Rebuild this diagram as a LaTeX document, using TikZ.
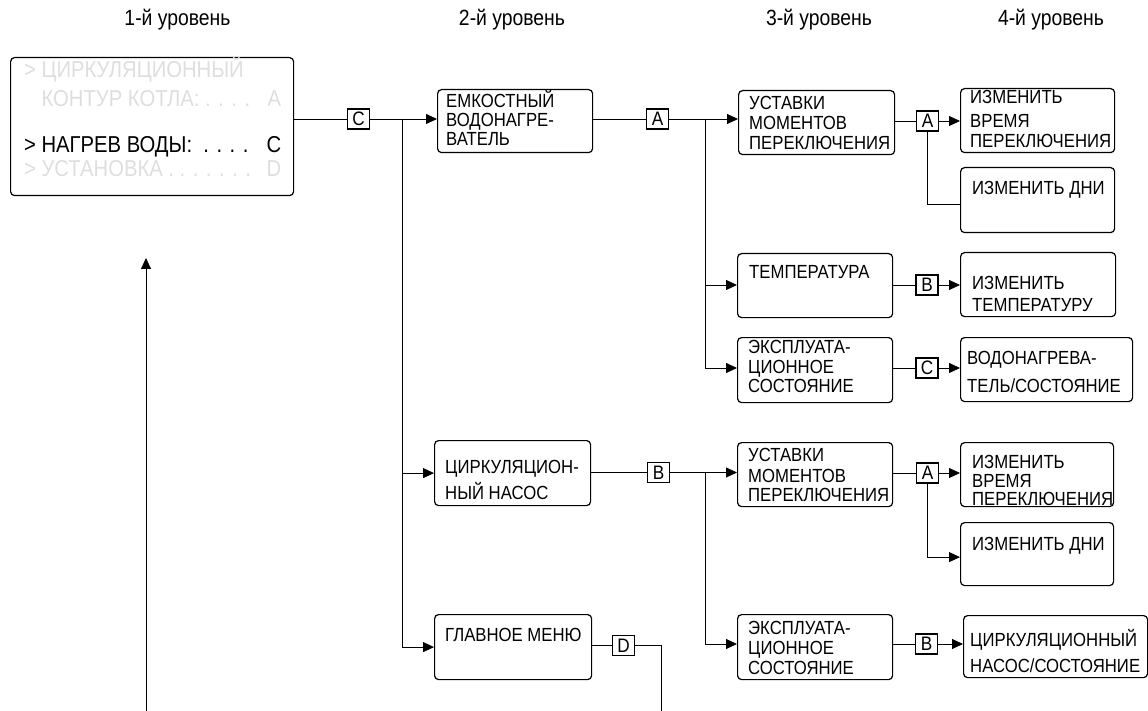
\documentclass[tikz,border=0pt]{standalone}
\usepackage{fontspec}
\setmainfont{Liberation Sans}
\newfontfamily\boxfont[FakeStretch=0.88]{Liberation Sans}
\usetikzlibrary{arrows.meta,calc}
\newcommand\ml[1]{\begin{tabular}[t]{@{}l@{}}#1\end{tabular}}
\begin{document}
\begin{tikzpicture}[x=1pt,y=-1pt,
  box/.style={draw, rounded corners=4pt, line width=1.2pt, inner sep=0pt, anchor=north west},
  tag/.style={draw, line width=1.1pt, minimum width=22pt, minimum height=20pt, inner sep=0pt, font=\boxfont\fontsize{19.5}{19}\selectfont},
  txt/.style={anchor=base west, inner sep=0pt, font=\boxfont\fontsize{19}{19}\selectfont},
  head/.style={anchor=base, inner sep=0pt, font=\boxfont\fontsize{22}{24}\selectfont},
  menu/.style={anchor=base west, inner sep=0pt, font=\boxfont\fontsize{23}{24}\selectfont},
  faint/.style={menu, text=black!13},
  ln/.style={line width=0.8pt},
  arr/.style={ln, -{Triangle[length=11pt,width=10pt]}}
]
\useasboundingbox (0,0) rectangle (1148,711);

% headings
\node[head] (h1) at (177.5,26) {1-й уровень};
\node[head] (h2) at (512,26) {2-й уровень};
\node[head] (h3) at (819,26) {3-й уровень};
\node[head] (h4) at (1051,26) {4-й уровень};

% level 1
\node[box, minimum width=283pt, minimum height=138pt] (L1) at (10,57) {};
\node[faint] (m1) at (24,78) {> ЦИРКУЛЯЦИОННЫЙ};
\node[faint] (m2) at (24,107) {\hbox to 257pt{\phantom{> }КОНТУР КОТЛА: . . . .\hfill A}};
\node[menu] (m3) at (24,153) {\hbox to 257pt{> НАГРЕВ ВОДЫ: \ . . . .\hfill C}};
\node[faint] (m4) at (24,177) {\hbox to 257pt{> УСТАНОВКА . . . . . . .\hfill D}};

% level 2
\node[box, minimum width=155pt, minimum height=63pt] (E1) at (437,89) {};
\node[txt] (E1t) at (446,108) {\ml{ЕМКОСТНЫЙ\\ ВОДОНАГРЕ-\\ ВАТЕЛЬ}};
\node[box, minimum width=156pt, minimum height=65pt] (C1) at (434,440) {};
\node[txt] (C1t) at (445,473) {\ml{ЦИРКУЛЯЦИОН-\\[4pt] НЫЙ НАСОС}};
\node[box, minimum width=157pt, minimum height=65pt] (GM) at (434,614) {};
\node[txt] (GMt) at (445,641) {ГЛАВНОЕ МЕНЮ};

% level 3
\node[box, minimum width=156pt, minimum height=64pt] (U1) at (738,90) {};
\node[txt] (U1t) at (749,110) {\ml{УСТАВКИ\\[1pt] МОМЕНТОВ\\[1pt] ПЕРЕКЛЮЧЕНИЯ}};
\node[box, minimum width=155pt, minimum height=64pt] (TE) at (737,253) {};
\node[txt] (TEt) at (749,279) {ТЕМПЕРАТУРА};
\node[box, minimum width=155pt, minimum height=65pt] (X1) at (737,337) {};
\node[txt] (X1t) at (748,353) {\ml{ЭКСПЛУАТА-\\[1pt] ЦИОННОЕ\\ СОСТОЯНИЕ}};
\node[box, minimum width=155pt, minimum height=64pt] (U2) at (737,442) {};
\node[txt] (U2t) at (748,461) {\ml{УСТАВКИ\\[2pt] МОМЕНТОВ\\ ПЕРЕКЛЮЧЕНИЯ}};
\node[box, minimum width=155pt, minimum height=65pt] (X2) at (737,614) {};
\node[txt] (X2t) at (748,634) {\ml{ЭКСПЛУАТА-\\[1pt] ЦИОННОЕ\\[1pt] СОСТОЯНИЕ}};

% level 4
\node[box, minimum width=154pt, minimum height=64pt] (T1) at (960,88) {};
\node[txt] (T1t) at (970,104) {\ml{ИЗМЕНИТЬ\\[5pt] ВРЕМЯ\\[1pt] ПЕРЕКЛЮЧЕНИЯ}};
\node[box, minimum width=154pt, minimum height=65pt] (T2) at (960,167) {};
\node[txt] (T2t) at (972,195) {ИЗМЕНИТЬ ДНИ};
\node[box, minimum width=155pt, minimum height=64pt] (T3) at (960,252) {};
\node[txt] (T3t) at (972,290) {\ml{ИЗМЕНИТЬ\\[2pt] ТЕМПЕРАТУРУ}};
\node[box, minimum width=172pt, minimum height=64pt] (T4) at (960,337) {};
\node[txt] (T4t) at (967,364) {\ml{ВОДОНАГРЕВА-\\[9pt] ТЕЛЬ/СОСТОЯНИЕ}};
\node[box, minimum width=153pt, minimum height=64pt] (T5) at (960,442) {};
\node[txt] (T5t) at (972,468) {\ml{ИЗМЕНИТЬ\\ ВРЕМЯ\\[-1pt] ПЕРЕКЛЮЧЕНИЯ}};
\node[box, minimum width=153pt, minimum height=63pt] (T6) at (960,522) {};
\node[txt] (T6t) at (972,550) {ИЗМЕНИТЬ ДНИ};
\node[box, minimum width=184pt, minimum height=62pt] (T7) at (963,615) {};
\node[txt] (T7t) at (970,646) {\ml{ЦИРКУЛЯЦИОННЫЙ\\[7pt] НАСОС/СОСТОЯНИЕ}};

% tags
\node[tag] (tC) at (358.5,119) {C};
\node[tag] (tA1) at (657.5,119) {A};
\node[tag] (tA2) at (927.5,121) {A};
\node[tag] (tB1) at (927,285) {B};
\node[tag] (tC2) at (927,368) {C};
\node[tag] (tB2) at (658.5,472.5) {B};
\node[tag] (tA3) at (927.5,473) {A};
\node[tag] (tD) at (623.5,645.5) {D};
\node[tag] (tB3) at (926.5,644) {B};

% junctions and free ends
\coordinate (j1) at (402,119);
\coordinate (j2) at (705,119);
\coordinate (j3) at (705,472.5);
\coordinate (dEnd) at (661,711);
\coordinate (up0) at (146,711);
\coordinate (up1) at (146,258);

% connectors
\draw[ln] (L1.east |- tC.west) -- (tC.west);
\draw[arr] (tC.east) -- (E1.west |- tC.east);
\draw[arr] (j1) |- (C1.west);
\draw[arr] (j1) |- (GM.west);

\draw[ln] (E1.east |- tA1.west) -- (tA1.west);
\draw[arr] (tA1.east) -- (U1.west |- tA1.east);
\draw[arr] (j2) |- (TE.west |- tB1.west);
\draw[arr] (j2) |- (X1.west |- tC2.west);

\draw[ln] (U1.east |- tA2.west) -- (tA2.west);
\draw[arr] (tA2.east) -- (T1.west |- tA2.east);
\draw[ln] (tA2.south) |- ($(T2.west)+(0,4)$);

\draw[ln] (TE.east |- tB1.west) -- (tB1.west);
\draw[arr] (tB1.east) -- (T3.west |- tB1.east);
\draw[ln] (X1.east |- tC2.west) -- (tC2.west);
\draw[arr] (tC2.east) -- (T4.west |- tC2.east);

\draw[ln] (C1.east |- tB2.west) -- (tB2.west);
\draw[arr] (tB2.east) -- (U2.west |- tB2.east);
\draw[arr] (j3) |- (X2.west |- tB3.west);

\draw[ln] (U2.east |- tA3.west) -- (tA3.west);
\draw[arr] (tA3.east) -- (T5.west |- tA3.east);
\draw[arr] (tA3.south) |- ($(T6.west)+(0,3)$);

\draw[ln] (X2.east |- tB3.west) -- (tB3.west);
\draw[arr] (tB3.east) -- (T7.west |- tB3.east);

\draw[ln] (GM.east |- tD.west) -- (tD.west);
\draw[ln] (tD.east) -| (dEnd);

\draw[arr] (up0) -- (up1);
\end{tikzpicture}
\end{document}
